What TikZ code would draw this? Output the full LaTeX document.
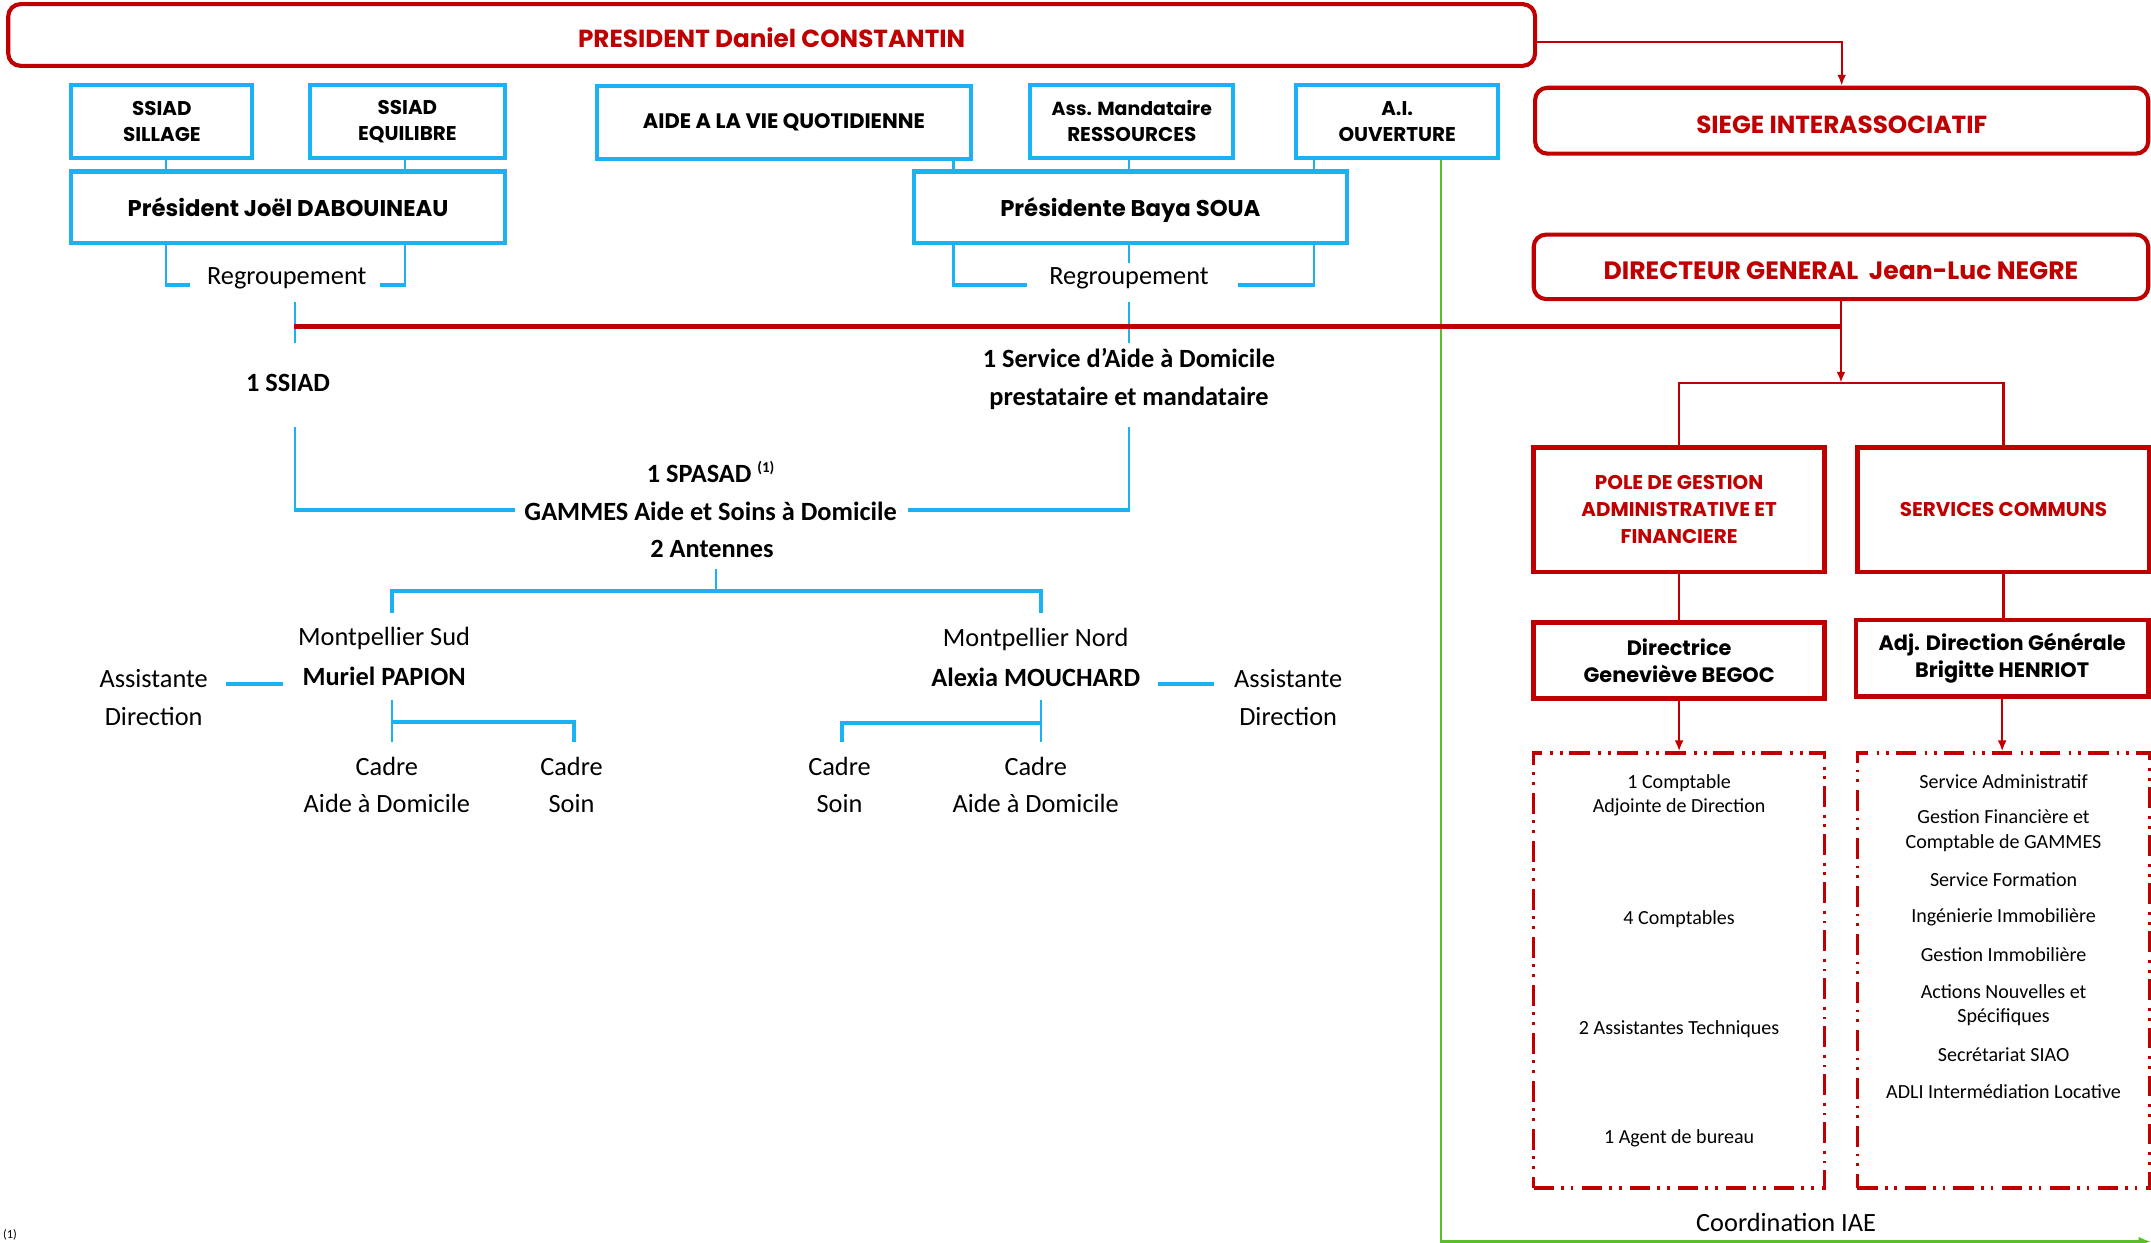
\documentclass[tikz,border=0pt]{standalone}
\usepackage{fontspec}
\setmainfont{Carlito}
\newfontfamily\gothic{Poppins}
\usetikzlibrary{arrows.meta,calc}
\definecolor{dred}{HTML}{C00000}
\definecolor{sky}{HTML}{1AB2F2}
\definecolor{lgreen}{HTML}{5CBD2C}
\begin{document}
\begin{tikzpicture}[x=1pt,y=-1pt,
  redbox/.style={draw=dred,line width=3pt,rounded corners=9pt,text=dred,font=\gothic\bfseries\fontsize{18}{22}\selectfont,align=center,inner sep=0pt,text height=19pt,text depth=0.4pt},
  redsq/.style={draw=dred,line width=3.5pt,align=center,inner sep=0pt},
  redhead/.style={text=dred,font=\gothic\bfseries\fontsize{14.5}{19.5}\selectfont},
  blkhead/.style={font=\gothic\bfseries\fontsize{15.2}{19.5}\selectfont},
  bluebox/.style={draw=sky,line width=3pt,align=center,inner sep=0pt,font=\gothic\bfseries\fontsize{14.5}{19}\selectfont},
  txt/.style={inner sep=0pt,align=center,font=\fontsize{19.2}{27.5}\selectfont},
  btxt/.style={inner sep=0pt,align=center,font=\bfseries\fontsize{19.2}{27.5}\selectfont},
  small/.style={inner sep=0pt,align=center,font=\fontsize{14.6}{17.7}\selectfont},
  bl/.style={draw=sky,line width=1.6pt},
  blt/.style={draw=sky,line width=2.8pt},
  rl/.style={draw=dred,line width=1.6pt},
  arr/.style={-{Latex[length=8pt,width=6.5pt]}},
  dashbox/.style={draw=dred,line width=2.5pt,dash pattern=on 15pt off 5pt on 2pt off 5pt on 2pt off 6pt,inner sep=0pt},
]
\useasboundingbox (0,0) rectangle (1568,906);

% ---------- red top ----------
\node[redbox,minimum width=1113pt,minimum height=45pt] (pres) at (562.5,25.5) {PRESIDENT Daniel CONSTANTIN};
\node[redbox,minimum width=447pt,minimum height=48pt] (siege) at (1342.5,88) {SIEGE INTERASSOCIATIF};
\node[redbox,minimum width=448pt,minimum height=47pt,font=\gothic\bfseries\fontsize{18.3}{22}\selectfont] (dg) at (1342,194.5) {DIRECTEUR GENERAL\ \ Jean-Luc NEGRE};

% ---------- blue boxes ----------
\node[bluebox,minimum width=132pt,minimum height=53pt] (sill) at (118,88.5) {SSIAD\\SILLAGE};
\node[bluebox,minimum width=142pt,minimum height=53pt] (equi) at (297,88.5) {SSIAD\\EQUILIBRE};
\node[bluebox,minimum width=273pt,minimum height=53pt,font=\gothic\bfseries\fontsize{15.3}{19}\selectfont] (aide) at (571.5,89.5) {AIDE A LA VIE QUOTIDIENNE};
\node[bluebox,minimum width=148pt,minimum height=53pt,font=\gothic\bfseries\fontsize{13.8}{19}\selectfont] (mand) at (825,88.5) {Ass. Mandataire\\\fontsize{14.5}{19}\selectfont RESSOURCES};
\node[bluebox,minimum width=147pt,minimum height=53pt] (ouv) at (1018.5,88.5) {A.I.\\OUVERTURE};
\node[bluebox,minimum width=316pt,minimum height=52pt,font=\gothic\bfseries\fontsize{16.6}{19}\selectfont] (dab) at (210,151) {Président Joël DABOUINEAU};
\node[bluebox,minimum width=316pt,minimum height=52pt,font=\gothic\bfseries\fontsize{16.6}{19}\selectfont,text depth=0pt] (soua) at (824,151) {Présidente Baya SOUA};

% ---------- green coordination line (under red) ----------
\coordinate (gEnd) at (1568,905);
\draw[draw=lgreen,line width=1.8pt,-{Latex[length=9pt,width=7pt]}] ([xshift=32pt]ouv.south) |- (gEnd);
\node[txt] (coord) at (1302,891) {Coordination IAE};

% blue box links
\draw[bl] ([xshift=3pt]sill.south) -- ([xshift=3pt]sill.south |- dab.north);
\draw[bl] ([xshift=-2pt]equi.south) -- ([xshift=-2pt]equi.south |- dab.north);
\draw[bl] ([xshift=123.5pt]aide.south) -- ([xshift=123.5pt]aide.south |- soua.north);
\draw[bl] ([xshift=-2pt]mand.south) -- ([xshift=-2pt]mand.south |- soua.north);
\draw[bl] ([xshift=-60.5pt]ouv.south) -- ([xshift=-60.5pt]ouv.south |- soua.north);

% Regroupement brackets
\node[txt] (regA) at (209,203) {Regroupement};
\node[txt] (regB) at (823,203) {Regroupement};
\draw[bl] ([xshift=-89pt]dab.south) -- ([xshift=-89pt]dab.south |- 0,208);
\draw[blt] ([xshift=-89.8pt]dab.south |- 0,208) -- ([xshift=-12pt,yshift=-5pt]regA.west);
\draw[bl] ([xshift=85pt]dab.south) -- ([xshift=85pt]dab.south |- 0,208);
\draw[blt] ([xshift=10pt,yshift=-5pt]regA.east) -- ([xshift=85.8pt]dab.south |- 0,208);
\draw[bl] ([xshift=-129pt]soua.south) -- ([xshift=-129pt]soua.south |- 0,208);
\draw[blt] ([xshift=-129.8pt]soua.south |- 0,208) -- ([xshift=-16pt,yshift=-5pt]regB.west);
\draw[bl] ([xshift=134pt]soua.south) -- ([xshift=134pt]soua.south |- 0,208);
\draw[blt] ([xshift=21pt,yshift=-5pt]regB.east) -- ([xshift=134.8pt]soua.south |- 0,208);
\draw[bl] ([xshift=-1pt]soua.south) -- ([xshift=-1pt,yshift=3pt]soua.south |- regB.north);

% services
\node[btxt] (ssiad) at (210,279) {1 SSIAD};
\node[btxt] (sad) at (823,276.5) {1 Service d’Aide à Domicile\\prestataire et mandataire};
\coordinate (sA1) at (215,220); \coordinate (sA2) at (215,250);
\coordinate (sB1) at (823,220); \coordinate (sB2) at (823,250);
\coordinate (sA3) at (215,311); \coordinate (sB3) at (823,311);
\coordinate (sA4) at (215,372); \coordinate (sB4) at (823,372);
\draw[bl] (sA1) -- (sA2);
\draw[bl] (sB1) -- (sB2);

\node[btxt] (spasad) at (518,344) {1 SPASAD {\fontsize{11}{11}\selectfont\raisebox{7pt}{(1)}}};
\node[btxt] (gam) at (518,373) {GAMMES Aide et Soins à Domicile};
\node[btxt] (ant) at (519,400) {2 Antennes};
\draw[bl] (sA3) -- (sA4);
\draw[blt] ([xshift=-0.8pt]sA4) -- ([xshift=-7pt]gam.west |- sA4);
\draw[bl] (sB3) -- (sB4);
\draw[blt] ([xshift=8pt]gam.east |- sB4) -- ([xshift=0.8pt]sB4);

% red DG line
\coordinate (redL) at (214,238);
\coordinate (bar) at (1342,279);
\draw[draw=dred,line width=3pt] (redL) -- (dg.south |- redL);
\draw[rl,arr] ([yshift=-5pt]pres.east) -| (siege.north);
\draw[rl,arr] (dg.south) -- (bar);

% antennes
\coordinate (t0) at (522,415); \coordinate (tbar) at (522,431);
\coordinate (tL) at (286,447); \coordinate (tR) at (759,447);
\draw[bl] (t0) -- (tbar);
\draw[blt] (tL) |- (tbar) -| (tR);

\node[txt] (montS) at (280,465.5) {Montpellier Sud};
\node[btxt] (papion) at (280,493) {Muriel PAPION};
\node[txt] (montN) at (755,466) {Montpellier Nord};
\node[btxt] (mouch) at (755,493.5) {Alexia MOUCHARD};
\node[txt] (asL) at (112,508.7) {Assistante\\Direction};
\node[txt] (asR) at (939,508.7) {Assistante\\Direction};
\coordinate (dl1) at (165,498.6); \coordinate (dl2) at (206,498.6);
\coordinate (dr1) at (844,498.6); \coordinate (dr2) at (885,498.6);
\draw[blt] (dl1) -- (dl2);
\draw[blt] (dr1) -- (dr2);

\node[txt] (cadL1) at (282,572.2) {Cadre\\Aide à Domicile};
\node[txt] (cadL2) at (416.6,572.2) {Cadre\\Soin};
\node[txt] (cadR1) at (612,572.2) {Cadre\\Soin};
\node[txt] (cadR2) at (755,572.2) {Cadre\\Aide à Domicile};
\coordinate (pL0) at (286,510); \coordinate (pL1) at (286,541);
\coordinate (pLb) at (286,526); \coordinate (pLe) at (418.5,541);
\coordinate (pR0) at (759,510); \coordinate (pR1) at (759,541);
\coordinate (pRb) at (759,527); \coordinate (pRe) at (614,541);
\draw[bl] (pL0) -- (pL1);
\draw[blt] (pLb) -| (pLe);
\draw[bl] (pR0) -- (pR1);
\draw[blt] (pRb) -| (pRe);

% ---------- right red structure ----------
\node[redsq,minimum width=212pt,minimum height=91pt,redhead] (pole) at (1224,371.5) {POLE DE GESTION\\ADMINISTRATIVE ET\\FINANCIERE};
\node[redsq,minimum width=213pt,minimum height=91pt,redhead] (serv) at (1460.5,371.5) {SERVICES COMMUNS};
\node[redsq,minimum width=212pt,minimum height=55pt,blkhead] (dirb) at (1224,481.5) {Directrice\\Geneviève BEGOC};
\node[redsq,minimum width=213pt,minimum height=56pt,blkhead] (adj) at (1459.5,480) {Adj. Direction Générale\\Brigitte HENRIOT};
\draw[rl] (pole.north) |- (bar) -| (serv.north);
\draw[rl] (pole.south) -- (dirb.north);
\draw[rl] (serv.south) -- (serv.south |- adj.north);

\node[dashbox,minimum width=212pt,minimum height=317pt] (dbL) at (1224,707.5) {};
\node[dashbox,minimum width=213pt,minimum height=317pt] (dbR) at (1460.5,707.5) {};
\draw[rl,arr] (dirb.south) -- (dbL.north);
\draw[rl,arr] (adj.south) -- (adj.south |- dbR.north);

\node[small] (l1) at (1224,579.5) {1 Comptable\\Adjointe de Direction};
\node[small] (l2) at (1224,670) {4 Comptables};
\node[small] (l3) at (1224,750) {2 Assistantes Techniques};
\node[small] (l4) at (1224,829.5) {1 Agent de bureau};

\node[small] (r1) at (1460.5,569.5) {Service Administratif};
\node[small] (r2) at (1460.5,605.5) {Gestion Financière et\\Comptable de GAMMES};
\node[small] (r3) at (1460.5,641.5) {Service Formation};
\node[small] (r4) at (1460.5,668.5) {Ingénierie Immobilière};
\node[small] (r5) at (1460.5,696) {Gestion Immobilière};
\node[small] (r6) at (1460.5,732.5) {Actions Nouvelles et\\Spécifiques};
\node[small] (r7) at (1460.5,768.5) {Secrétariat SIAO};
\node[small] (r8) at (1460.5,796) {ADLI Intermédiation Locative};

\node[inner sep=0pt,anchor=south west,font=\fontsize{9}{9}\selectfont] (fn) at (2,904) {(1)};
\end{tikzpicture}
\end{document}
